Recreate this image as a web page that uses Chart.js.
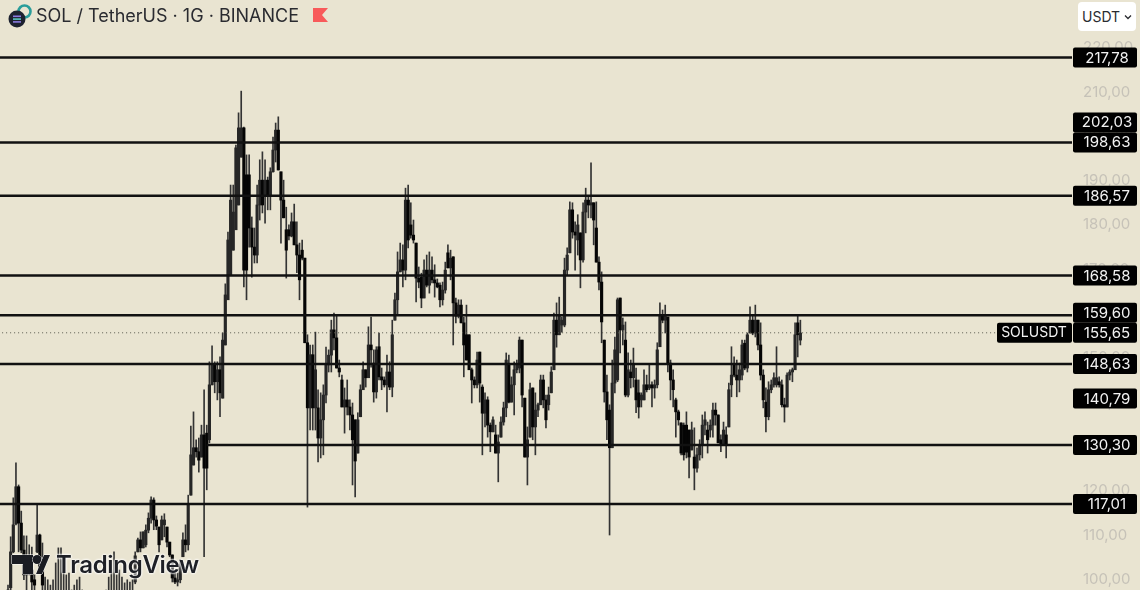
<!DOCTYPE html>
<html>
<head>
<meta charset="utf-8">
<title>SOL / TetherUS</title>
<script src="https://cdn.jsdelivr.net/npm/chart.js@4/dist/chart.umd.min.js"></script>
<style>
  html, body { margin: 0; padding: 0; background: #e9e4d1; overflow: hidden; }
  #wrap { position: relative; width: 1140px; height: 590px; font-family: Inter, sans-serif; }
  #grafica { position: absolute; left: 0; top: 0; }
  #titulo { position: absolute; left: 36px; top: 4px; font-size: 18px; line-height: 24px; color: #2a2b30; white-space: nowrap; }
  #moneda { position: absolute; left: 1078px; top: 2px; width: 58px; height: 29px; background: #fff; border-radius: 4px; font-size: 14px; line-height: 30px; color: #2a2b30; text-indent: 4px; }
  #marca { position: absolute; left: 56px; top: 548px; font-size: 24px; line-height: 34px; font-weight: 600; color: #1e2026; letter-spacing: -0.3px; text-shadow: 0 0 2px #fff, 0 0 2px #fff, 0 0 3px #fff; white-space: nowrap; }
  svg { position: absolute; left: 0; top: 0; }
</style>
</head>
<body>
<div id="wrap">
  <canvas id="grafica" width="1140" height="590"></canvas>
  <div id="titulo">SOL / TetherUS · 1G · BINANCE</div>
  <div id="moneda">USDT</div>
  <div id="marca">TradingView</div>
  <svg width="1140" height="590" viewBox="0 0 1140 590">
    <circle cx="24.5" cy="11.5" r="6" fill="none" stroke="#2a9d9a" stroke-width="2.6"/>
    <circle cx="17" cy="19" r="8.5" fill="#1d2230"/>
    <rect x="13" y="15.5" width="8" height="1.6" fill="#8a7ae0"/>
    <rect x="13" y="18.3" width="8" height="1.6" fill="#5ac8c0"/>
    <rect x="13" y="21.1" width="8" height="1.6" fill="#8a7ae0"/>
    <polygon points="313,8 328,8 322,15 328,22 313,22" fill="#f85a5a"/>
    <g fill="#1a1c22" stroke="#fff" stroke-width="1" paint-order="stroke">
      <polygon points="12,555 33,555 33,574 23,574 23,564 12,564"/>
      <circle cx="37" cy="559.5" r="4.5"/>
      <polygon points="36,574 44,555 50,555 42,574"/>
    </g>
    <polyline points="1125,15.5 1128,18.5 1131,15.5" fill="none" stroke="#2a2b30" stroke-width="1.3"/>
  </svg>
</div>
<script>
// precios, una vela por posicion
const maximos = [
  98.7,109.6,118.4,126.3,121.3,115.4,109.8,109.8,107.8,107.3,
  101.0,116.8,110.2,108.2,100.5,99.9,98.7,99.9,103.7,107.1,
  107.1,101.4,101.0,101.4,97.6,98.7,99.9,100.5,97.6,96.3,
  95.8,96.7,96.0,95.4,96.3,97.2,96.7,97.6,100.5,102.1,
  106.2,101.0,102.1,100.5,99.2,99.9,99.4,99.9,106.2,109.3,
  110.7,110.7,112.3,115.0,118.6,118.4,114.3,111.8,114.3,114.8,
  111.8,108.4,105.5,101.7,101.4,104.4,110.5,112.3,119.0,134.6,
  137.8,131.5,131.9,134.8,142.8,134.8,149.1,152.7,149.1,149.1,
  150.2,155.6,166.7,178.4,189.0,189.0,198.0,205.3,210.2,202.1,
  195.8,195.8,181.8,179.3,189.0,194.7,196.5,194.7,190.8,192.9,
  199.8,203.0,204.4,191.9,190.1,184.0,180.0,182.7,184.7,180.7,
  175.9,176.6,172.5,155.2,152.9,152.9,155.8,142.8,142.1,143.9,
  152.4,151.8,158.5,160.1,159.7,149.5,146.1,143.2,145.0,140.5,
  139.8,136.0,137.6,143.9,149.1,147.3,157.0,159.2,151.8,152.5,
  155.6,147.7,145.7,150.6,149.1,158.5,164.6,173.9,175.9,175.5,
  188.3,189.0,185.0,181.1,175.9,170.5,169.1,172.1,173.2,173.9,
  172.8,171.0,167.8,166.9,167.1,171.6,175.5,174.3,172.8,163.5,
  163.1,163.1,159.2,161.9,155.2,147.7,145.7,151.3,151.3,143.9,
  142.1,141.2,135.3,136.7,134.8,132.6,136.7,140.0,151.1,150.6,
  145.7,149.1,149.5,154.7,154.0,140.9,134.4,144.3,143.2,142.1,
  139.8,146.1,146.1,141.6,143.4,148.0,160.1,162.4,163.7,159.2,
  172.5,174.8,185.2,185.0,180.7,182.3,178.2,185.0,188.3,186.3,
  194.0,185.0,185.2,172.8,169.4,154.0,146.1,139.4,149.5,154.7,
  163.5,163.5,159.0,158.1,151.1,149.5,152.2,147.7,145.0,142.1,
  147.3,146.1,148.4,144.6,145.0,153.4,162.4,160.8,161.9,159.2,
  149.5,147.3,140.9,138.2,135.3,135.3,137.8,133.7,135.5,134.2,
  129.7,131.5,137.1,137.8,135.5,136.0,139.8,139.8,137.1,132.6,
  135.5,134.4,144.3,152.5,150.2,149.5,148.8,154.0,154.0,155.6,
  161.5,159.7,161.9,158.5,157.9,147.3,143.2,144.6,145.0,146.6,
  152.5,145.7,145.0,140.9,146.6,147.3,147.7,157.9,159.7,158.5
]
const minimos = [
  95.4,97.6,106.0,112.3,106.2,106.0,99.9,97.6,101.0,97.6,
  97.2,106.0,101.4,97.6,95.5,95.5,95.4,95.5,95.5,95.5,
  95.4,95.4,95.4,95.4,95.4,95.4,95.4,95.4,94.4,92.6,
  92.0,93.5,92.6,91.8,92.6,94.0,94.0,94.7,95.5,95.5,
  95.5,95.5,95.5,95.5,95.5,95.5,95.5,95.5,99.0,106.2,
  106.2,107.1,107.3,110.5,112.7,111.2,111.2,106.2,108.9,109.6,
  107.3,105.1,99.4,99.0,98.5,99.2,105.1,106.2,106.6,119.0,
  125.8,127.6,124.2,127.6,105.1,120.2,130.8,143.9,142.1,140.5,
  136.7,140.9,152.9,163.1,168.7,174.3,178.9,184.5,195.3,166.0,
  163.1,175.0,168.2,171.4,171.4,181.1,182.7,180.4,183.4,183.4,
  191.9,194.2,192.4,175.9,181.6,168.0,176.6,177.3,175.5,169.2,
  163.1,172.1,153.4,116.3,133.7,133.7,133.7,126.5,127.4,128.1,
  139.8,146.8,146.8,151.8,147.7,145.7,138.9,133.0,137.1,133.7,
  121.3,118.6,128.5,136.7,142.8,143.4,145.7,147.9,140.0,140.9,
  145.0,142.8,143.4,137.8,142.8,141.2,158.5,159.7,169.4,166.0,
  167.6,174.8,177.0,175.9,162.6,165.8,161.3,163.5,166.0,164.6,
  166.9,163.7,165.8,161.5,161.9,164.6,170.3,167.6,152.9,157.9,
  159.0,157.9,145.7,149.5,147.3,139.8,143.2,143.2,140.0,128.1,
  134.4,132.1,128.8,133.3,128.5,122.0,132.1,134.8,136.7,139.8,
  140.0,137.1,146.6,146.6,138.9,127.6,121.3,132.1,131.5,128.1,
  136.7,139.4,138.7,134.2,138.2,142.1,147.3,152.4,155.2,155.8,
  157.0,168.7,173.7,177.0,169.8,173.2,165.8,171.6,178.2,181.6,
  181.6,175.5,171.6,165.3,153.4,140.0,131.5,110.0,129.7,142.1,
  144.6,151.1,152.9,141.2,141.2,143.2,143.4,137.6,136.4,138.9,
  140.5,142.3,142.8,138.9,140.9,143.2,152.5,157.9,155.6,146.8,
  140.5,138.9,132.1,134.8,128.1,126.9,127.4,122.9,129.2,120.2,
  124.2,126.9,127.4,132.6,128.5,132.1,132.1,134.8,130.8,128.8,
  130.3,127.4,134.4,141.2,145.7,141.2,142.3,145.0,147.3,146.8,
  155.6,155.2,154.7,151.8,145.0,138.7,133.3,136.0,142.1,143.4,
  143.4,143.4,138.9,135.5,138.9,145.0,144.6,147.3,150.2,152.9
]
const aperturas = [
  95.8,98.1,106.2,112.5,120.9,112.7,106.6,101.0,104.4,102.1,
  99.9,106.2,110.0,102.1,96.8,96.5,96.9,96.6,96.8,96.5,
  96.9,96.5,96.8,96.4,96.7,96.5,96.9,96.6,95.6,95.4,
  93.5,95.4,95.8,94.0,93.1,95.4,96.3,95.4,96.5,96.8,
  97.0,96.6,96.9,96.5,96.8,96.4,96.7,96.5,99.4,106.2,
  108.9,107.1,107.8,111.1,113.8,117.9,113.4,111.8,108.9,112.3,
  111.8,108.4,105.5,100.3,99.4,99.9,105.1,108.9,107.8,119.0,
  125.8,129.7,128.8,127.6,132.6,133.0,131.5,143.9,148.4,144.6,
  147.3,140.9,152.9,163.1,168.7,174.3,178.9,184.5,195.3,201.9,
  191.3,191.3,179.3,175.0,173.2,184.5,190.1,186.8,190.1,186.8,
  192.0,196.9,201.4,192.0,185.6,178.9,178.9,177.5,180.7,175.5,
  173.2,174.3,172.5,153.4,138.7,150.7,138.7,138.7,131.9,136.0,
  141.6,148.4,150.6,156.3,154.5,147.7,145.0,138.9,140.5,138.9,
  137.1,136.0,128.5,136.7,142.8,147.3,145.5,152.9,148.8,142.3,
  152.5,145.7,145.0,143.9,146.8,143.4,158.5,163.1,169.4,172.1,
  169.8,185.6,180.0,177.7,175.9,168.0,168.2,163.5,169.8,166.4,
  169.8,167.6,166.9,166.4,163.1,165.3,173.7,170.3,172.8,162.4,
  159.4,161.9,157.9,155.2,155.2,147.3,145.0,143.9,151.3,143.4,
  137.5,140.5,134.8,133.3,132.6,128.5,132.1,135.5,138.7,148.4,
  140.0,143.9,147.3,147.7,154.0,140.9,127.6,132.1,143.2,134.4,
  138.2,139.4,145.0,140.5,139.4,142.1,147.3,158.5,155.2,157.4,
  157.4,169.8,173.7,183.4,178.4,176.6,178.2,172.1,182.9,185.6,
  184.5,185.0,179.3,171.6,167.1,154.0,142.3,138.2,129.7,144.3,
  145.0,163.5,156.3,154.0,141.6,146.8,145.5,145.0,142.1,140.5,
  140.5,143.9,143.2,143.9,143.2,143.9,152.5,159.7,158.5,159.2,
  148.8,145.0,140.5,137.8,135.3,134.8,134.8,133.7,129.2,127.6,
  125.1,128.1,130.3,134.8,133.7,133.7,134.8,138.2,137.1,131.5,
  130.3,132.6,134.4,143.9,148.4,146.1,145.0,146.1,153.3,147.7,
  155.6,158.5,155.6,158.5,152.9,146.1,140.0,136.7,142.8,143.9,
  143.9,144.6,143.9,139.4,138.9,146.1,146.8,147.3,157.9,154.0
]
const cierres = [
  97.6,106.2,112.3,120.9,112.7,106.6,101.0,104.4,102.1,99.4,
  98.7,110.0,101.7,98.7,96.5,96.9,96.6,96.8,96.5,96.9,
  96.5,96.8,96.4,96.7,96.5,96.9,96.6,96.8,95.4,93.5,
  95.4,95.8,94.0,93.1,95.4,96.3,95.4,96.5,96.8,97.0,
  96.6,96.9,96.5,96.8,96.4,96.7,96.5,96.9,105.3,108.9,
  107.1,110.7,111.1,113.8,117.9,113.4,112.0,107.8,113.4,113.4,
  108.4,105.5,100.3,99.4,99.9,103.3,108.9,107.8,116.8,128.1,
  129.7,128.8,126.9,132.6,125.1,125.1,143.9,148.4,144.6,147.3,
  142.1,154.0,164.2,176.6,185.6,182.9,197.4,201.9,201.9,169.8,
  169.8,179.3,175.0,173.2,184.5,190.1,184.5,190.1,186.8,192.0,
  196.9,201.4,192.4,185.6,181.6,174.3,177.5,180.7,175.5,173.2,
  167.6,172.5,153.4,138.7,150.7,138.7,147.3,131.9,136.0,141.6,
  148.4,150.6,156.3,154.5,147.7,146.8,138.9,140.5,138.9,137.1,
  131.5,126.7,136.0,142.8,147.3,145.5,152.9,151.8,142.3,151.8,
  145.7,145.0,143.9,146.8,143.4,155.2,163.1,169.4,172.1,169.8,
  185.6,176.6,177.7,176.6,168.0,167.1,163.5,169.8,166.4,169.8,
  167.6,166.9,166.0,163.1,165.3,169.8,170.3,172.5,162.4,159.4,
  161.9,157.9,152.9,149.5,147.3,145.0,143.9,149.5,144.3,137.5,
  140.5,134.8,133.3,136.0,128.5,131.0,135.5,138.7,149.5,140.0,
  143.9,147.3,148.4,154.0,141.6,127.6,131.5,142.8,134.4,138.2,
  139.4,145.0,140.5,136.0,141.6,146.8,158.5,155.2,159.7,158.5,
  169.8,173.2,183.4,178.4,177.7,180.0,172.1,182.9,185.6,184.5,
  185.0,181.1,171.6,167.1,158.1,142.3,136.0,129.7,144.3,151.8,
  163.1,156.3,157.4,141.6,147.3,145.5,148.4,140.5,138.9,141.6,
  143.9,142.8,143.9,143.2,143.9,151.8,159.7,158.5,159.7,148.8,
  145.0,142.8,137.8,136.0,128.5,128.1,128.7,127.6,133.7,125.1,
  128.1,130.3,134.8,136.0,131.5,134.8,138.2,137.1,130.8,130.3,
  133.7,130.3,142.8,146.1,146.1,145.0,147.3,152.9,147.7,155.2,
  158.5,155.6,158.5,152.9,146.1,140.5,136.7,142.8,143.9,145.5,
  145.5,143.9,139.4,138.9,146.1,146.8,147.3,155.2,155.2,155.6
]

const nivelesConLinea = [217.78, 198.63, 186.57, 168.58, 159.60, 148.63, 130.30, 117.01]
const nivelesEtiqueta = [117.01, 130.30, 140.79, 148.63, 155.65, 159.60, 168.58, 186.57, 198.63, 202.03, 217.78]
const precioActual = 155.65
const simbolo = "SOLUSDT"

const xMin = -3.02
const xMax = 401.5
const altoEtiqueta = 20

function coma(v) {
  return v.toFixed(2).replace(".", ",")
}

// cajas negras de la derecha, se apilan hacia arriba si se pisan
const etiquetas = {
  id: "etiquetas",
  afterDraw(chart) {
    const ctx = chart.ctx
    const y = chart.scales.y
    let anterior = Infinity
    ctx.save()
    ctx.textAlign = "center"
    ctx.textBaseline = "middle"
    for (const v of nivelesEtiqueta) {
      let py = y.getPixelForValue(v)
      if (py > anterior - altoEtiqueta) py = anterior - altoEtiqueta
      anterior = py
      ctx.fillStyle = "#000"
      ctx.beginPath()
      ctx.roundRect(1073, py - altoEtiqueta / 2, 64, altoEtiqueta, 2)
      ctx.fill()
      ctx.fillStyle = "#f2f2f2"
      ctx.font = "15px Inter, sans-serif"
      ctx.fillText(coma(v), 1107, py + 0.5)
      if (v === precioActual) {
        ctx.fillStyle = "#000"
        ctx.beginPath()
        ctx.roundRect(997, py - altoEtiqueta / 2, 75, altoEtiqueta, 2)
        ctx.fill()
        ctx.fillStyle = "#f2f2f2"
        ctx.font = "14px Inter, sans-serif"
        ctx.fillText(simbolo, 1034, py + 0.5)
      }
    }
    ctx.restore()
  }
}

const mechas = maximos.map((h, i) => ({ x: i, y: [minimos[i], h] }))
const cuerpos = aperturas.map((o, i) => ({ x: i, y: [o, cierres[i]] }))
const coloresCuerpo = aperturas.map((o, i) => (cierres[i] < o ? "#050505" : "#262626"))

const lineas = nivelesConLinea.map(v => ({
  type: "line",
  data: [{ x: v === 130.30 ? 75 : xMin, y: v }, { x: xMax, y: v }],
  borderColor: "#111",
  borderWidth: 2.5,
  pointRadius: 0
}))

new Chart(document.getElementById("grafica").getContext("2d"), {
  type: "bar",
  data: {
    datasets: [
      { data: mechas, backgroundColor: "#333", barThickness: 1, grouped: false, order: 3 },
      { data: cuerpos, backgroundColor: coloresCuerpo, barThickness: 2.5, grouped: false, order: 2 },
      ...lineas.map(l => ({ ...l, order: 1 })),
      {
        type: "line",
        data: [{ x: xMin + 0.8, y: precioActual }, { x: xMax, y: precioActual }],
        borderColor: "#5a5a50",
        borderWidth: 1,
        borderDash: [1, 3],
        pointRadius: 0,
        order: 1
      }
    ]
  },
  options: {
    responsive: false,
    animation: false,
    layout: { padding: 0 },
    plugins: { legend: { display: false }, tooltip: { enabled: false } },
    scales: {
      x: { type: "linear", min: xMin, max: xMax, display: false, offset: false },
      y: {
        position: "right",
        min: 97.59,
        max: 230.77,
        afterFit: s => { s.width = 68; s.paddingTop = 0; s.paddingBottom = 0 },
        grid: { display: false },
        border: { display: false },
        ticks: {
          stepSize: 10,
          includeBounds: false,
          autoSkip: false,
          padding: 3,
          color: "#c6c2b8",
          font: { family: "Inter, sans-serif", size: 15 },
          callback: v => (v > 220 ? "" : coma(v))
        }
      }
    }
  },
  plugins: [etiquetas]
})
</script>
</body>
</html>
